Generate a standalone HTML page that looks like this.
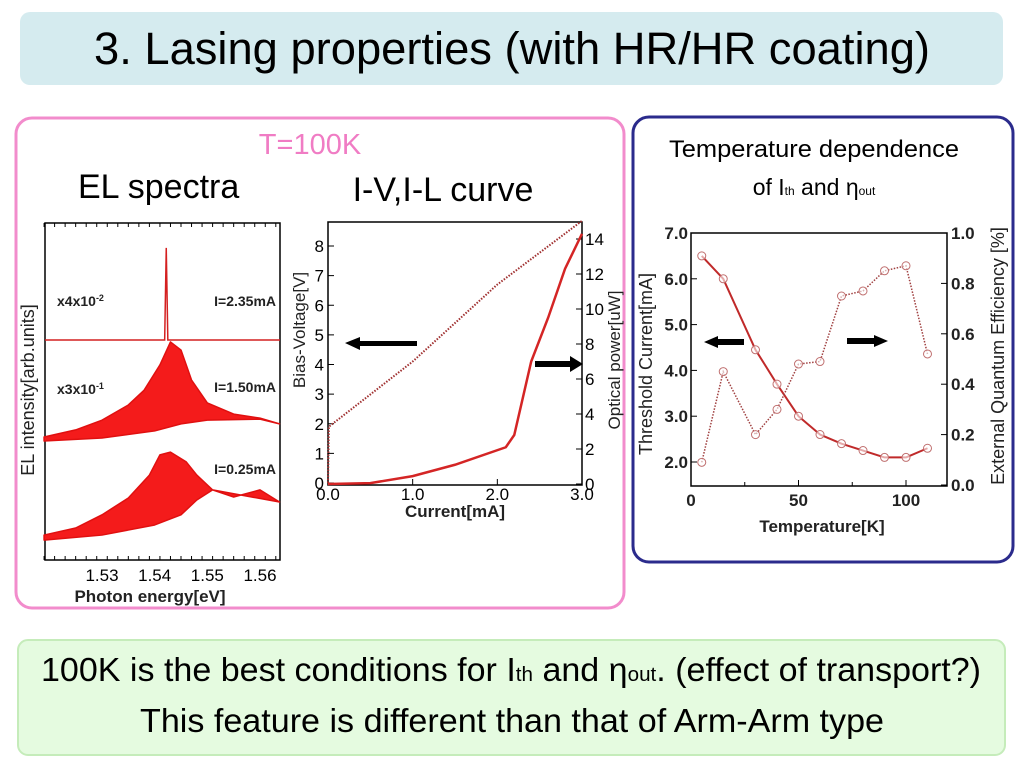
<!DOCTYPE html>
<html><head><meta charset="utf-8"><style>
body{margin:0;width:1024px;height:768px;background:#fff;overflow:hidden;font-family:"Liberation Sans",sans-serif;}
svg{position:absolute;left:0;top:0}
</style></head><body>
<svg id="s" width="1024" height="768" xmlns="http://www.w3.org/2000/svg" font-family="Liberation Sans, sans-serif">
<rect x="20" y="12" width="983" height="73" rx="10" fill="#d5ebef"/>
<text x="512" y="64" font-size="45" text-anchor="middle" textLength="836" lengthAdjust="spacingAndGlyphs">3. Lasing properties (with HR/HR coating)</text>
<rect x="16" y="118" width="608" height="490" rx="16" fill="none" stroke="#f28ccc" stroke-width="3"/>
<rect x="633" y="117" width="380" height="445" rx="16" fill="none" stroke="#2b2b8c" stroke-width="3"/>
<rect x="18" y="640" width="987" height="115" rx="10" fill="#e5fbe0" stroke="#c5ecba" stroke-width="2"/>
<text x="310" y="154" font-size="29" fill="#f07cc4" text-anchor="middle">T=100K</text>
<text x="78" y="198" font-size="34">EL spectra</text>
<text x="443" y="201" font-size="34" text-anchor="middle">I-V,I-L curve</text>
<text x="814" y="157" font-size="24" text-anchor="middle" textLength="290" lengthAdjust="spacingAndGlyphs">Temperature dependence</text>
<text x="814" y="195" font-size="23" text-anchor="middle">of I<tspan font-size="12">th</tspan> and η<tspan font-size="12">out</tspan></text>
<text x="511" y="681" font-size="33" text-anchor="middle" textLength="940" lengthAdjust="spacingAndGlyphs">100K is the best conditions for I<tspan font-size="20">th</tspan> and η<tspan font-size="20">out</tspan>. (effect of transport?)</text>
<text x="512" y="732" font-size="33" text-anchor="middle" textLength="744" lengthAdjust="spacingAndGlyphs">This feature is different than that of Arm-Arm type</text>
<g id="g"></g>
</svg>
<script>
// EL spectra data
const elTicks=[1.53,1.54,1.55,1.56];
const topBase=65.3, topPeakE=1.5422, topPeak=92.6;
const midUpperE=[1.519,1.525,1.53,1.535,1.538,1.541,1.543,1.545,1.547,1.55,1.555,1.56,1.5637];
const midUpper=[36.5,38.6,41.5,46,50.4,57.9,64.7,62.3,53.4,46.6,43.3,42.1,40.4];
const midLowerE=[1.519,1.53,1.54,1.545,1.55,1.56,1.5637];
const midLower=[35.3,36.2,38.3,40.4,41.5,41.8,40.4];
const botUpperE=[1.519,1.525,1.53,1.535,1.539,1.541,1.543,1.546,1.548,1.551,1.555,1.56,1.5637];
const botUpper=[7.4,9.5,13.4,18.4,25.2,31.2,32,29.1,25.2,20.8,18.7,20.8,17.2];
const botLowerE=[1.519,1.53,1.54,1.545,1.548,1.551];
const botLower=[5.9,7.4,10.4,13.4,17.8,20.8];
// I-V / I-L data
const ivTicksX=[0,1,2,3];const ivTicksV=[0,1,2,3,4,5,6,7,8];const ivTicksP=[0,2,4,6,8,10,12,14];
const vI=[0,0.01,1,2,3];const vV=[0,1.9,4.1,6.7,8.85];
const lI=[0,0.5,1,1.5,2.1,2.2,2.4,2.6,2.8,3];const lP=[0,0.05,0.45,1.1,2.1,2.8,7,9.5,12.3,14.3];
// Temperature data
const tT=[5,15,30,40,50,60,70,80,90,100,110];
const tIth=[6.5,6.0,4.45,3.7,3.0,2.6,2.4,2.25,2.1,2.1,2.3];
const tEqe=[0.09,0.45,0.2,0.3,0.48,0.49,0.75,0.77,0.85,0.87,0.52];
const tTicksX=[0,50,100];const tTicksL=[2,3,4,5,6,7];const tTicksR=[0,0.2,0.4,0.6,0.8,1.0];

const NS="http://www.w3.org/2000/svg",G=document.getElementById('g');
function mk(t,a,txt){const e=document.createElementNS(NS,t);for(const k in a)e.setAttribute(k,a[k]);if(txt!==undefined)e.textContent=txt;G.appendChild(e);return e;}
const lin=(d0,d1,r0,r1)=>v=>r0+(v-d0)/(d1-d0)*(r1-r0);

// EL chart
const ex=lin(1.53,1.56,102,260),ey=lin(0,100,560,223);
let e=mk('rect',{x:45,y:223,width:235,height:337,fill:'none',stroke:'#000','stroke-width':1.5});

for(let v=1.519;v<1.5637;v+=0.002){const x=ex(v);mk('line',{x1:x,x2:x,y1:223,y2:227,stroke:'#000'});mk('line',{x1:x,x2:x,y1:560,y2:556,stroke:'#000'});}
elTicks.forEach(t=>{e=mk('text',{x:ex(t),y:581,'font-size':17,'text-anchor':'middle'},t.toFixed(2));});
function band(uE,u,lE,l,name){let p=uE.map((v,i)=>ex(v)+','+ey(u[i]));for(let i=lE.length-1;i>=0;i--)p.push(ex(lE[i])+','+ey(l[i]));e=mk('polygon',{points:p.join(' '),fill:'#f41b1b',stroke:'#e01010','stroke-width':1.5,'stroke-linejoin':'round'});}
band(midUpperE,midUpper,midLowerE,midLower,'spectrum-1-50ma');
band(botUpperE,botUpper,botLowerE,botLower,'spectrum-0-25ma');
e=mk('polyline',{points:[[45,ey(topBase)],[ex(topPeakE-0.0003),ey(topBase)],[ex(topPeakE),ey(topPeak)],[ex(topPeakE+0.0003),ey(topBase)],[280,ey(topBase)]].map(p=>p.join(',')).join(' '),fill:'none',stroke:'#d42020','stroke-width':1.5});

[['x4x10','-2',57,306],['x3x10','-1',57,394]].forEach(a=>{e=mk('text',{x:a[2],y:a[3],'font-size':14,'font-weight':'bold',fill:'#222'});e.innerHTML=a[0]+'<tspan dy="-5" font-size="9">'+a[1]+'</tspan>';});
[['I=2.35mA',306],['I=1.50mA',392],['I=0.25mA',474]].forEach(a=>{e=mk('text',{x:276,y:a[1],'font-size':14,'font-weight':'bold',fill:'#222','text-anchor':'end'},a[0]);});
e=mk('text',{x:150,y:602,'font-size':17,'font-weight':'bold','text-anchor':'middle',fill:'#222'},'Photon energy[eV]');
e=mk('text',{transform:'translate(34,390) rotate(-90)','font-size':18,'text-anchor':'middle',fill:'#222'},'EL intensity[arb.units]');

// IV chart
const ix=lin(0,3,328,582),iv=lin(0,8,483,246),ip=lin(0,14,484,239);
e=mk('rect',{x:328,y:222,width:254,height:263,fill:'none',stroke:'#000','stroke-width':1.5});
ivTicksX.forEach(t=>{const x=ix(t);mk('line',{x1:x,x2:x,y1:485,y2:479,stroke:'#000'});e=mk('text',{x:x,y:500,'font-size':17,'text-anchor':'middle'},t.toFixed(1));});
ivTicksV.forEach(t=>{const y=iv(t);mk('line',{x1:328,x2:334,y1:y,y2:y,stroke:'#000'});e=mk('text',{x:324,y:y+6,'font-size':17,'text-anchor':'end'},t);});
ivTicksP.forEach(t=>{const y=ip(t);mk('line',{x1:582,x2:576,y1:y,y2:y,stroke:'#000'});e=mk('text',{x:585,y:y+6,'font-size':17},t);});
e=mk('polyline',{points:vI.map((v,i)=>ix(v)+','+iv(vV[i])).join(' '),fill:'none',stroke:'#a03030','stroke-width':2,'stroke-dasharray':'1.5 1.5'});
e=mk('polyline',{points:lI.map((v,i)=>ix(v)+','+ip(lP[i])).join(' '),fill:'none',stroke:'#d42525','stroke-width':2.5});
e=mk('polygon',{points:'345,343 360,337 360,341 417,341 417,346 360,346 360,350',fill:'#000'});
e=mk('polygon',{points:'535,361 570,361 570,356 583,364 570,372 570,367 535,367',fill:'#000'});
e=mk('text',{x:455,y:517,'font-size':17,'font-weight':'bold','text-anchor':'middle',fill:'#222'},'Current[mA]');
e=mk('text',{transform:'translate(305,330) rotate(-90)','font-size':17,'text-anchor':'middle',fill:'#222'},'Bias-Voltage[V]');
e=mk('text',{transform:'translate(620,360) rotate(-90)','font-size':17,'text-anchor':'middle',fill:'#222'},'Optical power[uW]');

// Temperature chart
const tx=lin(0,100,691,906),tl=lin(2,7,462,233),tr=lin(0,1,485,233);
e=mk('rect',{x:691,y:233,width:256,height:253,fill:'none',stroke:'#000','stroke-width':1.5});
tTicksX.forEach(t=>{const x=tx(t);mk('line',{x1:x,x2:x,y1:486,y2:480,stroke:'#000'});e=mk('text',{x:x,y:506,'font-size':17,'font-weight':'bold','text-anchor':'middle',fill:'#222'},t);});
[25,75].forEach(t=>{const x=tx(t);mk('line',{x1:x,x2:x,y1:486,y2:482,stroke:'#000'});});
tTicksL.forEach(t=>{const y=tl(t);mk('line',{x1:691,x2:697,y1:y,y2:y,stroke:'#000'});e=mk('text',{x:688,y:y+6,'font-size':17,'font-weight':'bold','text-anchor':'end',fill:'#222'},t.toFixed(1));});
tTicksR.forEach(t=>{const y=tr(t);mk('line',{x1:947,x2:941,y1:y,y2:y,stroke:'#000'});e=mk('text',{x:951,y:y+6,'font-size':17,'font-weight':'bold',fill:'#222'},t.toFixed(1));});
e=mk('polyline',{points:tT.map((v,i)=>tx(v)+','+tl(tIth[i])).join(' '),fill:'none',stroke:'#c02a2a','stroke-width':2,'stroke-linejoin':'round'});
e=mk('polyline',{points:tT.map((v,i)=>tx(v)+','+tr(tEqe[i])).join(' '),fill:'none',stroke:'#a04040','stroke-width':1.5,'stroke-dasharray':'1.5 1.5'});
tT.forEach((v,i)=>{e=mk('circle',{cx:tx(v),cy:tl(tIth[i]),r:4,fill:'#fff','fill-opacity':0.6,stroke:'#c07070'});
e=mk('circle',{cx:tx(v),cy:tr(tEqe[i]),r:4,fill:'#fff','fill-opacity':0.6,stroke:'#c07070'});});
e=mk('polygon',{points:'704,342 718,336 718,339 744,339 744,345 718,345 718,348',fill:'#000'});
e=mk('polygon',{points:'847,338 874,338 874,335 888,341 874,347 874,344 847,344',fill:'#000'});
e=mk('text',{x:822,y:532,'font-size':17,'font-weight':'bold','text-anchor':'middle',fill:'#222'},'Temperature[K]');
e=mk('text',{transform:'translate(652,364) rotate(-90)','font-size':18,'text-anchor':'middle',fill:'#222'},'Threshold Current[mA]');
e=mk('text',{transform:'translate(1004,356) rotate(-90)','font-size':18,'text-anchor':'middle',fill:'#222'},'External Quantum Efficiency [%]');
</script>
</body></html>
